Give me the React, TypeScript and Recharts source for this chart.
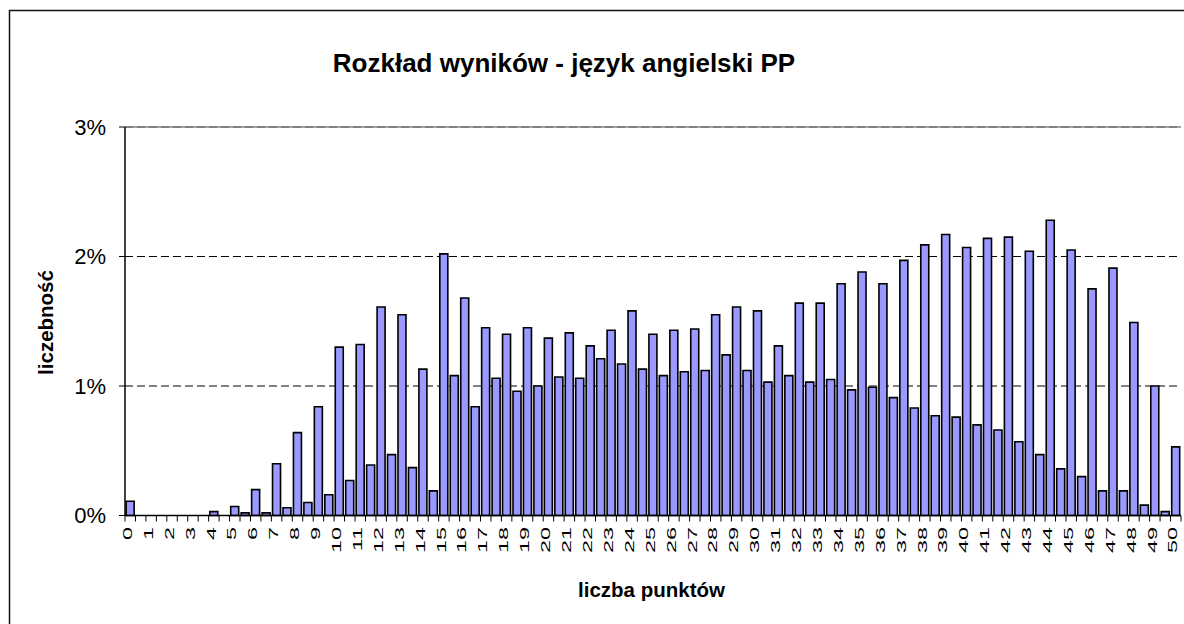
import React from "react";
import { BarChart, Bar, XAxis, YAxis, CartesianGrid, ReferenceLine } from "recharts";

const scores = [
  "0", "0.5", "1", "1.5", "2", "2.5", "3", "3.5", "4", "4.5",
  "5", "5.5", "6", "6.5", "7", "7.5", "8", "8.5", "9", "9.5",
  "10", "10.5", "11", "11.5", "12", "12.5", "13", "13.5", "14", "14.5",
  "15", "15.5", "16", "16.5", "17", "17.5", "18", "18.5", "19", "19.5",
  "20", "20.5", "21", "21.5", "22", "22.5", "23", "23.5", "24", "24.5",
  "25", "25.5", "26", "26.5", "27", "27.5", "28", "28.5", "29", "29.5",
  "30", "30.5", "31", "31.5", "32", "32.5", "33", "33.5", "34", "34.5",
  "35", "35.5", "36", "36.5", "37", "37.5", "38", "38.5", "39", "39.5",
  "40", "40.5", "41", "41.5", "42", "42.5", "43", "43.5", "44", "44.5",
  "45", "45.5", "46", "46.5", "47", "47.5", "48", "48.5", "49", "49.5",
  "50",
];

// liczebność in percent
const frequency = [
  0.11, 0, 0, 0, 0, 0, 0, 0, 0.03, 0,
  0.07, 0.02, 0.2, 0.02, 0.4, 0.06, 0.64, 0.1, 0.84, 0.16,
  1.3, 0.27, 1.32, 0.39, 1.61, 0.47, 1.55, 0.37, 1.13, 0.19,
  2.02, 1.08, 1.68, 0.84, 1.45, 1.06, 1.4, 0.96, 1.45, 1.0,
  1.37, 1.07, 1.41, 1.06, 1.31, 1.21, 1.43, 1.17, 1.58, 1.13,
  1.4, 1.08, 1.43, 1.11, 1.44, 1.12, 1.55, 1.24, 1.61, 1.12,
  1.58, 1.03, 1.31, 1.08, 1.64, 1.03, 1.64, 1.05, 1.79, 0.97,
  1.88, 0.99, 1.79, 0.91, 1.97, 0.83, 2.09, 0.77, 2.17, 0.76,
  2.07, 0.7, 2.14, 0.66, 2.15, 0.57, 2.04, 0.47, 2.28, 0.36,
  2.05, 0.3, 1.75, 0.19, 1.91, 0.19, 1.49, 0.08, 1.0, 0.03,
  0.53,
];

const yTicks = [0, 1, 2, 3];

const title = "Rozkład wyników - język angielski PP";
const xTitle = "liczba punktów";
const yTitle = "liczebność";

const data = scores.map((s, i) => ({ score: s, value: frequency[i] }));

const FONT = "'Liberation Sans', Arial, sans-serif";

const XTick = (props: any) => {
  const { x, y, payload, index, width } = props;
  const half = width / scores.length / 2;
  const isLabel = index % 2 === 0;
  const isLast = index === scores.length - 1;
  return (
    <g>
      <line x1={x - half} x2={x - half} y1={y} y2={y + 6} stroke="#000" strokeWidth={1} />
      {isLast && <line x1={x + half} x2={x + half} y1={y} y2={y + 6} stroke="#000" strokeWidth={1} />}
      {isLabel && (
        <text
          transform={`translate(${x - 3}, ${y + 11.5}) rotate(-90) scale(1.8, 1)`}
          textAnchor="end"
          dy="0.36em"
          fontSize={13}
          fontFamily={FONT}
          fill="#000"
        >
          {String(payload.value)}
        </text>
      )}
    </g>
  );
};

export default function App() {
  return (
    <div style={{ position: "absolute", left: 0, top: 0, width: 1184, height: 624, background: "#fff", overflow: "hidden" }}>
      <BarChart
        width={1184}
        height={624}
        data={data}
        margin={{ top: 127, right: 3, bottom: 78.5, left: 65 }}
        barCategoryGap="11%"
      >
        <CartesianGrid vertical={false} stroke="#000" strokeDasharray="8 4" strokeWidth={1} />
        <ReferenceLine y={3} stroke="#808080" strokeWidth={1.3} />
        <ReferenceLine x="50" position="end" stroke="#808080" strokeWidth={1.5} />
        <XAxis
          dataKey="score"
          interval={0}
          tickLine={false}
          tickSize={0}
          tickMargin={0}
          height={30}
          axisLine={{ stroke: "#000", strokeWidth: 1.5 }}
          tick={<XTick />}
        />
        <YAxis
          domain={[0, 3]}
          ticks={yTicks}
          width={60}
          tickFormatter={(v: number) => `${v}%`}
          tickSize={6}
          tickMargin={13}
          tick={{ fontSize: 22, fill: "#000", fontFamily: FONT }}
          tickLine={{ stroke: "#000", strokeWidth: 1 }}
          axisLine={{ stroke: "#000", strokeWidth: 1.5 }}
        />
        <Bar dataKey="value" fill="#9999FF" stroke="#000" strokeWidth={1.6} isAnimationActive={false} />
      </BarChart>
      <svg
        width={1184}
        height={624}
        style={{ position: "absolute", left: 0, top: 0, pointerEvents: "none" }}
      >
        <path d="M 9.5 640 V 10.5 H 1200" fill="none" stroke="#111" strokeWidth={1.5} />
        <text x={564} y={71.5} textAnchor="middle" fontSize={26} fontWeight="bold" fontFamily={FONT} fill="#000">
          {title}
        </text>
        <text x={651.5} y={596.5} textAnchor="middle" fontSize={20.5} fontWeight="bold" fontFamily={FONT} fill="#000">
          {xTitle}
        </text>
        <text
          transform="translate(53, 322.5) rotate(-90)"
          textAnchor="middle"
          fontSize={20.5}
          fontWeight="bold"
          fontFamily={FONT}
          fill="#000"
        >
          {yTitle}
        </text>
      </svg>
    </div>
  );
}
